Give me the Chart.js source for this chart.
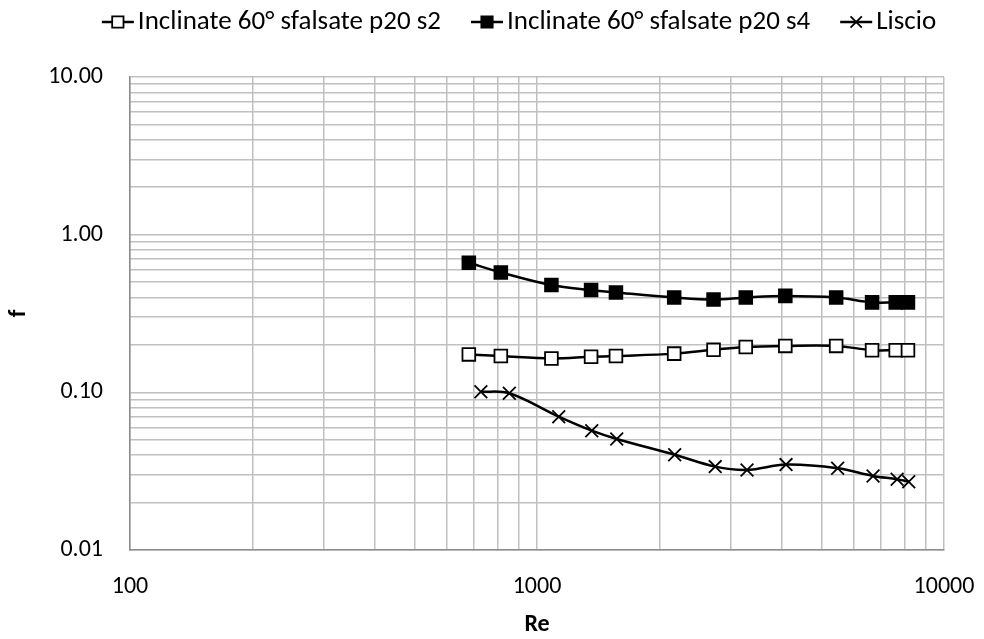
<!DOCTYPE html>
<html>
<head>
<meta charset="utf-8">
<script src="https://cdn.jsdelivr.net/npm/chart.js@4.4.1/dist/chart.umd.min.js"></script>
<style>
  html, body { margin: 0; padding: 0; background: #fff; }
  #wrap { width: 984px; height: 639px; position: relative; }
</style>
</head>
<body>
<div id="wrap"><canvas id="chart_f_re"></canvas></div>
<script>
// Reynolds numbers of the measured points
const reInclinate = [680, 815, 1085, 1358, 1563, 2173, 2715, 3258, 4075, 5433, 6658, 7610, 8155];
const reLiscio = [728, 855, 1131, 1363, 1570, 2179, 2741, 3281, 4091, 5479, 6695, 7671, 8193];

// friction factor f
const fS2 = [0.174, 0.170, 0.164, 0.168, 0.170, 0.176, 0.186, 0.194, 0.197, 0.197, 0.185, 0.185, 0.185];
const fS4 = [0.663, 0.576, 0.479, 0.445, 0.430, 0.400, 0.388, 0.400, 0.409, 0.400, 0.372, 0.372, 0.372];
const fLiscio = [0.101, 0.0986, 0.0701, 0.0571, 0.0506, 0.0402, 0.0338, 0.0322, 0.0348, 0.0330, 0.0295, 0.0281, 0.0271];

const seriesNames = ['Inclinate 60° sfalsate p20 s2', 'Inclinate 60° sfalsate p20 s4', 'Liscio'];
const xTickLabels = ['100', '1000', '10000'];
const yTickLabels = ['0.01', '0.10', '1.00', '10.00'];

const FONT = 'Calibri, Carlito, Lato, sans-serif';
const FONT_SIZE = 24;
const GRID = '#c0c0c0';

// decade lines plus the 2..9 lines in between
function logTicks(labels) {
  const majors = labels.map(Number);
  const out = [];
  majors.forEach((m, i) => {
    out.push({ value: m, major: true });
    if (i < majors.length - 1) {
      for (let k = 2; k <= 9; k++) out.push({ value: +(m * k).toPrecision(6), major: false });
    }
  });
  return out;
}

function labelFor(labels, value) {
  const hit = labels.find(l => Math.abs(Number(l) - value) < Number(l) * 1e-6);
  return hit || '';
}

function pts(xs, ys) {
  return xs.map((x, i) => ({ x: x, y: ys[i] }));
}

const datasets = [
  {
    label: seriesNames[0],
    data: pts(reInclinate, fS2),
    pointStyle: 'rect',
    pointBackgroundColor: '#ffffff'
  },
  {
    label: seriesNames[1],
    data: pts(reInclinate, fS4),
    pointStyle: 'rect',
    pointBackgroundColor: '#000000'
  },
  {
    label: seriesNames[2],
    data: pts(reLiscio, fLiscio),
    pointStyle: 'crossRot',
    pointBackgroundColor: '#000000'
  }
].map(d => Object.assign({
  borderColor: '#000000',
  borderWidth: 2.5,
  pointBorderColor: '#000000',
  pointBorderWidth: 1.8,
  pointRadius: 9,
  tension: 0.35,
  fill: false
}, d));

// legend row: line + marker + label, centred above the plot
const legendRow = {
  id: 'legendRow',
  afterDraw(chart) {
    const ctx = chart.ctx;
    const symW = 32, gapText = 4, gapItem = 30, cy = 22;
    ctx.save();
    ctx.font = '27px ' + FONT;
    const widths = seriesNames.map(n => ctx.measureText(n).width);
    let total = 0;
    widths.forEach((w, i) => { total += symW + gapText + w + (i < widths.length - 1 ? gapItem : 0); });
    let x = 519 - total / 2;
    chart.data.datasets.forEach((ds, i) => {
      ctx.strokeStyle = '#000';
      ctx.lineWidth = 2.5;
      ctx.beginPath();
      ctx.moveTo(x, cy);
      ctx.lineTo(x + symW, cy);
      ctx.stroke();
      ctx.fillStyle = ds.pointBackgroundColor;
      ctx.lineWidth = 1.8;
      Chart.helpers.drawPoint(ctx, { pointStyle: ds.pointStyle, radius: 8, rotation: 0, borderWidth: 1.8 }, x + symW / 2, cy);
      ctx.fillStyle = '#000';
      ctx.textBaseline = 'middle';
      ctx.textAlign = 'left';
      ctx.fillText(ds.label, x + symW + gapText, cy);
      x += symW + gapText + widths[i] + gapItem;
    });
    ctx.restore();
  }
};

const config = {
  type: 'line',
  data: { datasets: datasets },
  options: {
    responsive: true,
    maintainAspectRatio: false,
    animation: false,
    layout: { padding: { top: 77, right: 40, bottom: 0, left: 0 } },
    plugins: {
      legend: { display: false },
      tooltip: { enabled: false }
    },
    scales: {
      x: {
        type: 'logarithmic',
        position: 'bottom',
        min: 100,
        max: 10000,
        afterBuildTicks: s => { s.ticks = logTicks(xTickLabels); },
        afterFit: s => { s.height = 89; s.paddingLeft = 0; s.paddingRight = 0; },
        grid: { color: GRID, lineWidth: 1.5, drawTicks: false },
        border: { color: '#8c8c8c', width: 1.5 },
        ticks: {
          autoSkip: false,
          maxRotation: 0,
          padding: 23,
          color: '#000',
          font: { family: FONT, size: FONT_SIZE },
          callback: v => labelFor(xTickLabels, v)
        },
        title: {
          display: true,
          text: 'Re',
          color: '#000',
          font: { family: FONT, size: FONT_SIZE, weight: 'bold' },
          padding: { top: 0, bottom: 0 }
        }
      },
      y: {
        type: 'logarithmic',
        position: 'left',
        min: 0.01,
        max: 10,
        afterBuildTicks: s => { s.ticks = logTicks(yTickLabels); },
        afterFit: s => { s.width = 130; s.paddingTop = 0; s.paddingBottom = 0; },
        grid: { color: GRID, lineWidth: 1.5, drawTicks: false },
        border: { color: '#8c8c8c', width: 1.5 },
        ticks: {
          autoSkip: false,
          padding: 27,
          color: '#000',
          font: { family: FONT, size: FONT_SIZE },
          callback: v => labelFor(yTickLabels, v)
        },
        title: {
          display: true,
          text: 'f',
          color: '#000',
          font: { family: FONT, size: FONT_SIZE, weight: 'bold' },
          padding: { top: 5, bottom: 0 }
        }
      }
    }
  },
  plugins: [legendRow]
};

new Chart(document.getElementById('chart_f_re'), config);
</script>
</body>
</html>
